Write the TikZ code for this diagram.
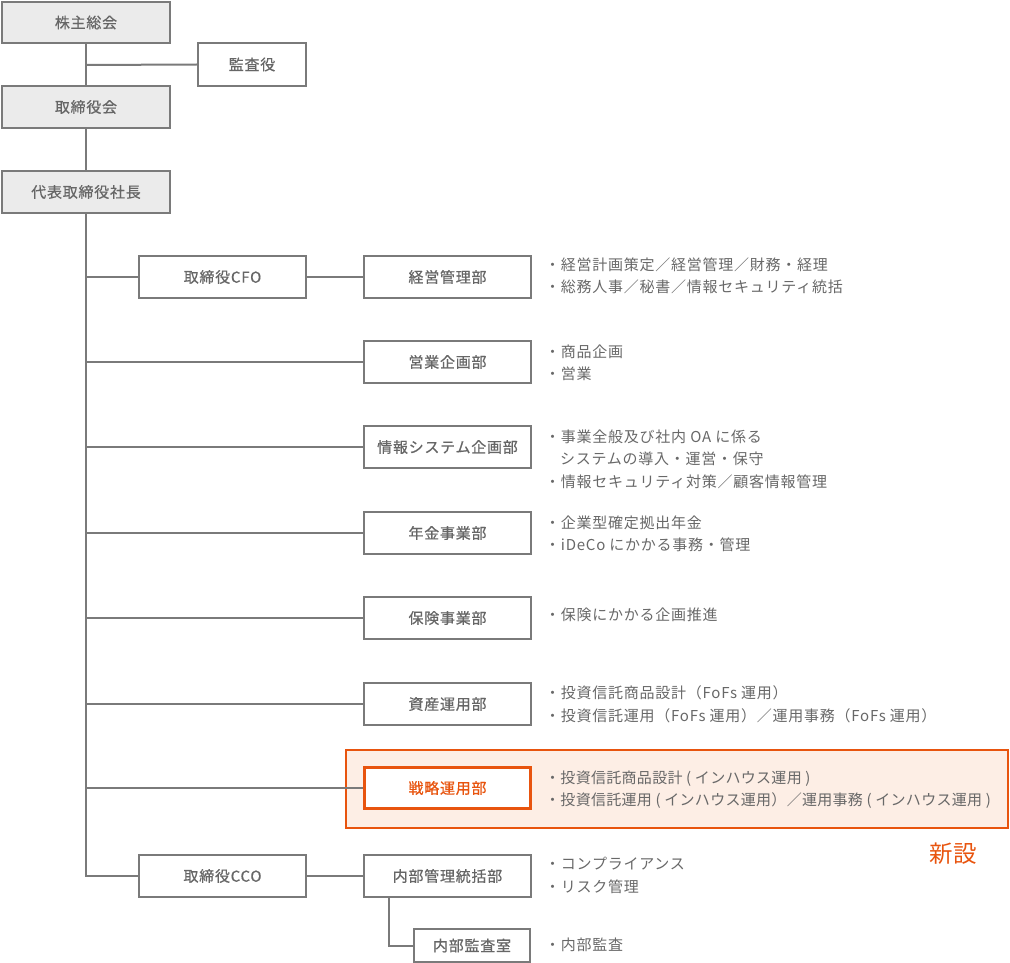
\documentclass[tikz,border=0pt]{standalone}
\usepackage{fontspec}
\setmainfont{Noto Sans CJK JP}
\newfontfamily\boxfont[LetterSpace=5,FakeBold=0.6]{Noto Sans CJK JP}
\newfontfamily\descfont[LetterSpace=5]{Noto Sans CJK JP}
\newfontfamily\descfonttight[LetterSpace=2]{Noto Sans CJK JP}
\definecolor{lineg}{HTML}{7A7A7A}
\definecolor{textg}{HTML}{666666}
\definecolor{descg}{HTML}{686868}
\definecolor{boxfill}{HTML}{EBEBEB}
\definecolor{orng}{HTML}{E8540E}
\definecolor{hlfill}{HTML}{FDEEE5}
\begin{document}
\begin{tikzpicture}[x=1pt,y=-1pt,
  orgbox/.style={draw=lineg, line width=2pt, fill=white, inner sep=0pt,
    minimum width=167pt, minimum height=42pt, text=textg,
    font=\boxfont\fontsize{15}{18}\selectfont},
  topbox/.style={orgbox, fill=boxfill, minimum width=168pt},
  newbox/.style={orgbox, draw=orng, text=orng, line width=3pt},
  hlbox/.style={draw=orng, line width=2.2pt, fill=hlfill, inner sep=0pt},
  desc/.style={anchor=west, inner sep=0pt, align=left, text=descg,
    font=\descfont\fontsize{15}{22.5}\selectfont},
  desctight/.style={desc, font=\descfonttight\fontsize{15}{22.5}\selectfont},
  conn/.style={draw=lineg, line width=2pt}]
\useasboundingbox (0,0) rectangle (1010,963);
% highlight
\node[hlbox, minimum width=662pt, minimum height=78pt] (hl) at (677,789) {};
% boxes
\node[topbox, minimum height=41pt] (kabu) at (86,22.5) {株主総会};
\node[orgbox, minimum width=108pt, minimum height=43pt] (kansa) at (252,64.5) {監査役};
\node[topbox] (tori) at (86,107) {取締役会};
\node[topbox] (ceo) at (86,192) {代表取締役社長};
\node[orgbox] (cfo) at (222.5,277) {取締役CFO};
\node[orgbox] (keiei) at (447.5,277) {経営管理部};
\node[orgbox] (eigyo) at (447.5,362) {営業企画部};
\node[orgbox] (joho) at (447.5,447) {情報システム企画部};
\node[orgbox] (nenkin) at (447.5,533) {年金事業部};
\node[orgbox] (hoken) at (447.5,618) {保険事業部};
\node[orgbox] (shisan) at (447.5,704) {資産運用部};
\node[newbox, minimum width=166pt, minimum height=41pt] (senryaku) at (447.5,788) {戦略運用部};
\node[orgbox] (cco) at (222.5,876) {取締役CCO};
\node[orgbox] (naibu) at (447.5,876) {内部管理統括部};
\node[orgbox, minimum width=116pt, minimum height=33pt] (kansashitsu) at (472,945.5) {内部監査室};
% connectors
\coordinate (kj) at (86,65);
\coordinate (tb) at (86,876);
\coordinate (nb) at (389,898);
\draw[conn] (kabu.south) -- (tori.north);
\draw[conn] (kj) -- (kansa.west);
\draw[conn] (tori.south) -- (ceo.north);
\draw[conn] (ceo.south) -- (tb) -- (cco.west);
\draw[conn] (ceo.south) |- (cfo.west);
\draw[conn] (cfo.east) -- (keiei.west);
\draw[conn] (ceo.south) |- (eigyo.west);
\draw[conn] (ceo.south) |- (joho.west);
\draw[conn] (ceo.south) |- (nenkin.west);
\draw[conn] (ceo.south) |- (hoken.west);
\draw[conn] (ceo.south) |- (shisan.west);
\draw[conn] (ceo.south) |- (senryaku.west);
\draw[conn] (cco.east) -- (naibu.west);
\draw[conn] (nb) |- (kansashitsu.west);
% descriptions
\node[desc] (d1) at (545,276) {・経営計画策定／経営管理／財務・経理\\・総務人事／秘書／情報セキュリティ統括};
\node[desc] (d2) at (545,363) {・商品企画\\・営業};
\node[desc] (d3) at (545,459) {・事業全般及び社内 OA に係る\\\phantom{・}システムの導入・運営・保守\\・情報セキュリティ対策／顧客情報管理};
\node[desc] (d4) at (545,534) {・企業型確定拠出年金\\・iDeCo にかかる事務・管理};
\node[desc] (d5) at (545,615) {・保険にかかる企画推進};
\node[desc] (d6) at (545,704.5) {・投資信託商品設計（FoFs 運用）\\・投資信託運用（FoFs 運用）／運用事務（FoFs 運用）};
\node[desctight] (d7) at (545,789.5) {・投資信託商品設計 ( インハウス運用 )\\・投資信託運用 ( インハウス運用）／運用事務 ( インハウス運用 )};
\node[desc] (d8) at (545,875.5) {・コンプライアンス\\・リスク管理};
\node[desc] (d9) at (545,945) {・内部監査};
\node[text=orng, inner sep=0pt, font=\fontsize{23.5}{26}\selectfont] (shinsetsu) at (953,854) {新設};
\end{tikzpicture}
\end{document}
